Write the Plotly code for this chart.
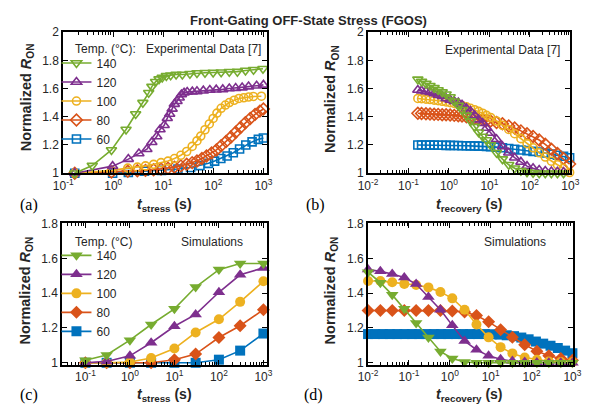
import plotly.graph_objects as go

W, H = 589, 416

# ---------------- series styling ----------------
temps = ["140", "120", "100", "80", "60"]
colors = {"140": "#77AC30", "120": "#7E2F8E", "100": "#EDB120", "80": "#D95319", "60": "#0072BD"}
symbols = {"140": "triangle-down", "120": "triangle-up", "100": "circle", "80": "diamond", "60": "square"}

# ---------------- (a) experimental, stress ----------------
a140_t = [0.17, 0.38, 0.92, 1.8, 2.8, 3.9, 5.1, 5.9, 7.0, 8.2, 9.5, 11.5, 14, 18, 24, 34, 47, 68, 99, 143, 208, 302, 438, 634, 980]
a140_v = [1.00, 1.054, 1.165, 1.31, 1.42, 1.50, 1.57, 1.614, 1.648, 1.667, 1.678, 1.69, 1.694, 1.70, 1.70, 1.705, 1.71, 1.712, 1.714, 1.716, 1.719, 1.72, 1.728, 1.733, 1.74]

a120_t = [0.17, 0.97, 2.0, 3.25, 4.7, 5.9, 7.4, 8.6, 10.4, 12, 13.4, 15, 16.6, 18.8, 20.8, 23, 26, 30, 38, 47, 63, 85, 114, 154, 208, 279, 376, 505, 732, 1000]
a120_v = [1.00, 1.05, 1.10, 1.14, 1.17, 1.22, 1.26, 1.31, 1.34, 1.39, 1.42, 1.456, 1.49, 1.51, 1.535, 1.558, 1.57, 1.576, 1.578, 1.58, 1.585, 1.59, 1.592, 1.594, 1.60, 1.603, 1.607, 1.614, 1.62, 1.626]

a100_t = [0.17, 0.92, 1.95, 3.03, 4.4, 6.4, 9.0, 12.4, 16.7, 22.4, 29.3, 37.7, 47, 56, 68, 83, 99, 118, 143, 174, 208, 260, 324, 405, 506, 632, 912]
a100_v = [1.00, 1.02, 1.036, 1.043, 1.052, 1.063, 1.075, 1.086, 1.104, 1.127, 1.154, 1.19, 1.229, 1.263, 1.308, 1.349, 1.388, 1.426, 1.46, 1.483, 1.501, 1.517, 1.53, 1.535, 1.54, 1.544, 1.546]

a80_t = [0.17, 0.92, 1.95, 3.03, 4.4, 6.4, 9.0, 12.4, 16.7, 22.4, 29.3, 37.7, 47, 59, 73, 92, 115, 143, 179, 224, 279, 349, 436, 545, 681, 850, 1000]
a80_v = [1.00, 1.009, 1.014, 1.018, 1.02, 1.025, 1.03, 1.036, 1.043, 1.052, 1.063, 1.075, 1.086, 1.104, 1.122, 1.143, 1.165, 1.195, 1.224, 1.256, 1.29, 1.324, 1.358, 1.388, 1.417, 1.44, 1.455]

a60_t = [0.17, 0.97, 2.0, 4.2, 9.2, 19.6, 35, 54, 80, 106, 141, 188, 250, 334, 445, 594, 792, 1000]
a60_v = [1.00, 1.00, 1.005, 1.014, 1.02, 1.03, 1.041, 1.054, 1.07, 1.086, 1.104, 1.122, 1.145, 1.172, 1.20, 1.222, 1.24, 1.25]

# ---------------- (b) experimental, recovery ----------------
b_t = [0.17, 0.21, 0.27, 0.34, 0.43, 0.54, 0.68, 0.85, 1.07, 1.35, 1.7, 2.1, 2.7, 3.4, 4.3, 5.4,
       6.8, 8.5, 10.7, 15, 21, 30, 42, 60, 85, 120, 170, 240, 340, 480, 680, 960]
b140_v = [1.665, 1.65, 1.635, 1.62, 1.605, 1.59, 1.575, 1.56, 1.54, 1.51, 1.48, 1.45, 1.41, 1.37, 1.33, 1.29,
          1.26, 1.235, 1.20, 1.145, 1.10, 1.06, 1.035, 1.018, 1.008, 1.003, 1.0, 1.0, 1.0, 1.0, 1.0]
b120_v = [1.59, 1.585, 1.58, 1.575, 1.565, 1.555, 1.545, 1.53, 1.52, 1.51, 1.50, 1.485, 1.46, 1.44, 1.41, 1.38,
          1.355, 1.32, 1.285, 1.24, 1.19, 1.145, 1.11, 1.08, 1.05, 1.035, 1.022, 1.015, 1.012, 1.01, 1.008]
b100_v = [1.53, 1.528, 1.525, 1.522, 1.518, 1.514, 1.51, 1.505, 1.50, 1.495, 1.487, 1.48, 1.47, 1.46, 1.45, 1.438,
          1.425, 1.41, 1.395, 1.37, 1.34, 1.31, 1.28, 1.245, 1.21, 1.18, 1.145, 1.115, 1.085, 1.06, 1.035, 1.005]
b80_v = [1.425, 1.423, 1.421, 1.42, 1.418, 1.417, 1.415, 1.414, 1.412, 1.41, 1.408, 1.405, 1.40, 1.395, 1.39, 1.385,
         1.38, 1.375, 1.37, 1.36, 1.35, 1.335, 1.32, 1.30, 1.28, 1.26, 1.235, 1.205, 1.17, 1.14, 1.105, 1.065]
b60_v = [1.20, 1.20, 1.20, 1.199, 1.199, 1.198, 1.198, 1.197, 1.197, 1.196, 1.196, 1.195, 1.195, 1.194, 1.193, 1.192,
         1.191, 1.19, 1.188, 1.185, 1.18, 1.175, 1.17, 1.165, 1.16, 1.155, 1.15, 1.143, 1.135, 1.127, 1.12, 1.11]

# ---------------- (c) simulations, stress ----------------
c_t = [0.1, 0.3, 1, 3, 10, 30, 100, 300, 1000]
c140_v = [1.015, 1.045, 1.13, 1.22, 1.31, 1.435, 1.535, 1.57, 1.57]
c120_v = [1.0, 1.008, 1.04, 1.115, 1.21, 1.278, 1.405, 1.505, 1.545]
c100_v = [1.0, 1.0, 1.005, 1.028, 1.082, 1.174, 1.25, 1.35, 1.468]
c80_v = [1.0, 1.0, 1.0, 1.0, 1.018, 1.05, 1.145, 1.213, 1.305]
c60_v = [1.0, 1.0, 1.0, 1.0, 1.0, 1.0, 1.018, 1.07, 1.168]

# ---------------- (d) simulations, recovery ----------------
d_t = [0.01, 0.02, 0.039, 0.077, 0.15, 0.3, 0.59, 1.15, 2.3, 4.5, 8.9, 17.5, 34, 68, 135, 265, 520, 1000]
d140_v = [1.52, 1.46, 1.39, 1.31, 1.228, 1.145, 1.065, 1.025, 1.005, 1.0, 1.0, 1.0, 1.0, 1.0, 1.0, 1.0, 1.0, 1.0]
d120_v = [1.535, 1.525, 1.51, 1.49, 1.452, 1.378, 1.305, 1.215, 1.125, 1.075, 1.04, 1.02, 1.01, 1.005, 1.002, 1.0, 1.0, 1.0]
d100_v = [1.47, 1.47, 1.462, 1.453, 1.447, 1.433, 1.407, 1.37, 1.305, 1.22, 1.146, 1.09, 1.054, 1.03, 1.017, 1.008, 1.005, 1.003]
d80_v = [1.30, 1.30, 1.30, 1.30, 1.30, 1.30, 1.30, 1.298, 1.292, 1.272, 1.235, 1.19, 1.146, 1.104, 1.067, 1.04, 1.025, 1.015]
d60_t = [0.01, 0.015, 0.023, 0.034, 0.052, 0.078, 0.118, 0.178, 0.268, 0.405, 0.611, 0.921, 1.39, 2.1, 3.16,
         4.77, 7.2, 10.9, 16.4, 24.7, 37.3, 56.2, 84.8, 128, 193, 291, 439, 663, 1000]
d60_v = [1.165, 1.165, 1.165, 1.165, 1.165, 1.165, 1.165, 1.165, 1.165, 1.165, 1.165, 1.165, 1.165, 1.165, 1.165,
         1.165, 1.165, 1.164, 1.162, 1.158, 1.153, 1.145, 1.135, 1.122, 1.11, 1.098, 1.085, 1.07, 1.055]

panels = {
    "a": {"140": (a140_t, a140_v), "120": (a120_t, a120_v), "100": (a100_t, a100_v),
          "80": (a80_t, a80_v), "60": (a60_t, a60_v)},
    "b": {"140": (b_t[:len(b140_v)], b140_v), "120": (b_t[:len(b120_v)], b120_v), "100": (b_t, b100_v),
          "80": (b_t, b80_v), "60": (b_t, b60_v)},
    "c": {"140": (c_t, c140_v), "120": (c_t, c120_v), "100": (c_t, c100_v), "80": (c_t, c80_v), "60": (c_t, c60_v)},
    "d": {"140": (d_t, d140_v), "120": (d_t, d120_v), "100": (d_t, d100_v), "80": (d_t, d80_v), "60": (d60_t, d60_v)},
}
axes_of = {"a": ("x", "y"), "b": ("x2", "y2"), "c": ("x3", "y3"), "d": ("x4", "y4")}
legend_of = {"a": "legend", "c": "legend2"}

FONT = "Liberation Sans, Arial, sans-serif"
TXT = "#262626"

fig = go.Figure()

for key, series in panels.items():
    hollow = key in ("a", "b")
    xa, ya = axes_of[key]
    # draw cooler temperatures first so the 140 °C curve sits on top
    for temp in reversed(temps):
        t, v = series[temp]
        sym = symbols[temp] + ("-open" if hollow else "")
        if hollow:
            msize = 8 if temp in ("100", "60") else 9
            marker = dict(symbol=sym, size=msize, color=colors[temp], line=dict(width=1.6, color=colors[temp]))
        else:
            msize = 10 if temp in ("100", "60", "80") else 11
            marker = dict(symbol=sym, size=msize, color=colors[temp], line=dict(width=0))
        fig.add_trace(go.Scatter(
            x=t, y=v, mode="lines+markers", name=temp,
            line=dict(color=colors[temp], width=1.6),
            marker=marker, cliponaxis=False,
            xaxis=xa, yaxis=ya,
            showlegend=key in legend_of, legend=legend_of.get(key, "legend"),
        ))


def px_x(p):
    return p / W


def px_y(p):
    return 1 - p / H


def log_axis(x0, x1, rng, decades, anchor):
    minors = [m * 10 ** d for d in range(decades[0] - 1, decades[-1] + 1) for m in range(2, 10)]
    return dict(
        type="log", domain=[px_x(x0), px_x(x1)], range=rng, anchor=anchor,
        tickmode="array", tickvals=[10 ** d for d in decades],
        ticktext=[f"10<sup>{d}</sup>" for d in decades],
        ticks="inside", ticklen=5, tickwidth=1.2, tickcolor="black",
        minor=dict(tickmode="array", tickvals=minors, ticks="inside", ticklen=3,
                   tickwidth=1, tickcolor="black", showgrid=False),
        showline=True, linecolor="black", linewidth=2, mirror="ticks",
        showgrid=False, zeroline=False,
        tickfont=dict(family=FONT, size=12, color=TXT),
    )


def lin_axis(y0, y1, rng, vals, anchor):
    return dict(
        domain=[px_y(y1), px_y(y0)], range=rng, anchor=anchor,
        tickmode="array", tickvals=vals, ticktext=[f"{v:g}" for v in vals],
        ticks="inside", ticklen=5, tickwidth=1.2, tickcolor="black",
        showline=True, linecolor="black", linewidth=2, mirror="ticks",
        showgrid=False, zeroline=False,
        tickfont=dict(family=FONT, size=12, color=TXT),
    )


top_vals = [1, 1.2, 1.4, 1.6, 1.8, 2]
bot_vals = [1, 1.2, 1.4, 1.6, 1.8]

fig.update_layout(
    width=W, height=H, margin=dict(l=0, r=0, t=0, b=0),
    paper_bgcolor="white", plot_bgcolor="white",
    xaxis=log_axis(55, 266, [-1, 3.08], [-1, 0, 1, 2, 3], "y"),
    yaxis=lin_axis(26, 172, [1, 2], top_vals, "x"),
    xaxis2=log_axis(370, 579, [-2, 3.0], [-2, -1, 0, 1, 2, 3], "y2"),
    yaxis2=lin_axis(26, 172, [1, 2], top_vals, "x2"),
    xaxis3=log_axis(54, 266, [-1.52, 3.09], [-1, 0, 1, 2, 3], "y3"),
    yaxis3=lin_axis(224, 370, [0.99, 1.8], bot_vals, "x3"),
    xaxis4=log_axis(370, 582, [-2, 3.02], [-2, -1, 0, 1, 2, 3], "y4"),
    yaxis4=lin_axis(224, 370, [0.99, 1.8], bot_vals, "x4"),
    legend=dict(x=px_x(48), y=px_y(43), xanchor="left", yanchor="top", traceorder="reversed",
                bgcolor="rgba(0,0,0,0)", font=dict(family=FONT, size=12, color=TXT),
                itemwidth=30, tracegroupgap=0),
    legend2=dict(x=px_x(48), y=px_y(242), xanchor="left", yanchor="top", traceorder="reversed",
                 bgcolor="rgba(0,0,0,0)", font=dict(family=FONT, size=12, color=TXT),
                 itemwidth=30, tracegroupgap=0),
    showlegend=True,
)


def note(text, x, y, size=12, family=FONT, angle=0, xanchor="center"):
    fig.add_annotation(text=text, x=px_x(x), y=px_y(y), xref="paper", yref="paper",
                       showarrow=False, xanchor=xanchor, yanchor="middle", textangle=angle,
                       font=dict(family=family, size=size, color=TXT if family == FONT else "black"))


note("<b>Front-Gating OFF-State Stress (FGOS)</b>", 308, 14, size=13)

note("Temp. (°C):", 65, 43, xanchor="left")
note("Experimental Data [7]", 138, 43, xanchor="left")
note("Experimental Data [7]", 447, 44, xanchor="left")
note("Temp. (°C)", 65, 243, xanchor="left")
note("Simulations", 175, 243, xanchor="left")
note("Simulations", 488, 243, xanchor="left")

ylab = "<b>Normalized <i>R</i><sub>ON</sub></b>"
note(ylab, 17, 93, size=14.5, angle=-90)
note(ylab, 332, 95, size=14.5, angle=-90)
note(ylab, 17, 293, size=14.5, angle=-90)
note(ylab, 332, 293, size=14.5, angle=-90)

t_stress = "<b><i>t</i><sub>stress</sub> (s)</b>"
t_recov = "<b><i>t</i><sub>recovery</sub> (s)</b>"
note(t_stress, 160, 205, size=14)
note(t_recov, 475, 205, size=14)
note(t_stress, 160, 402, size=14)
note(t_recov, 475, 402, size=14)

SERIF = "Liberation Serif, Times New Roman, serif"
note("(a)", 20, 205, size=16, family=SERIF)
note("(b)", 316, 205, size=16, family=SERIF)
note("(c)", 20, 402, size=16, family=SERIF)
note("(d)", 314, 402, size=16, family=SERIF)

fig.write_html("out.html")
